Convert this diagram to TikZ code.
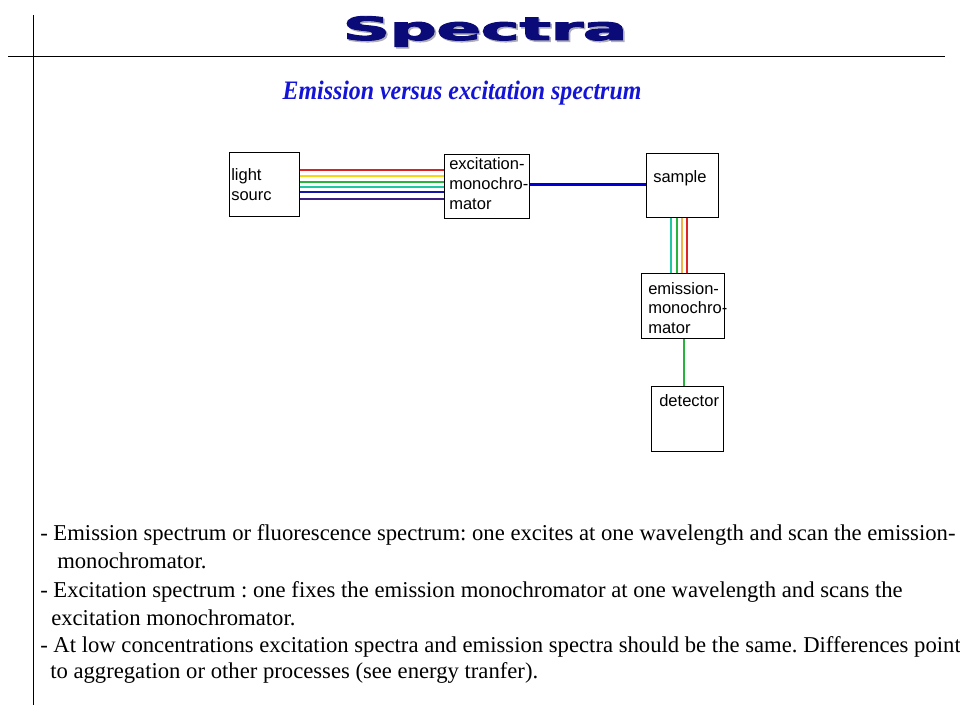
\documentclass[tikz,border=0pt]{standalone}
\usepackage{fontspec}
\setmainfont{Liberation Serif}
\setsansfont{Liberation Sans}
\newfontfamily\titlefont[FakeBold=3]{DejaVu Sans Bold}
\definecolor{navy}{RGB}{10,10,120}
\definecolor{shade}{RGB}{175,175,185}
\definecolor{subblue}{RGB}{20,20,215}
\definecolor{cred}{RGB}{220,35,35}
\definecolor{cyellow}{RGB}{245,215,20}
\definecolor{cgreen}{RGB}{40,180,60}
\definecolor{cteal}{RGB}{30,200,160}
\definecolor{cblue}{RGB}{20,20,170}
\definecolor{cindigo}{RGB}{60,30,130}
\definecolor{corange}{RGB}{240,180,70}
\definecolor{mainblue}{RGB}{0,0,210}
\newcommand{\spectratitle}{\scalebox{2.04}[1]{\titlefont\fontsize{24}{26}\selectfont Spectra}}
\tikzset{
  box/.style={draw=black, line width=0.75pt, rectangle, inner sep=0pt},
  boxtext/.style={font=\sffamily\fontsize{12.4}{15}\selectfont, anchor=base west, inner sep=0pt},
  bodytext/.style={font=\frenchspacing\fontsize{17}{20}\selectfont, anchor=base west, inner sep=0pt},
  ray/.style={line width=1.6pt},
  frameline/.style={line width=0.75pt, draw=black}
}
\begin{document}
\begin{tikzpicture}[x=0.75pt,y=-0.75pt]
\useasboundingbox (0,0) rectangle (960,720);
% frame
\coordinate (hl) at (8,57);
\coordinate (hr) at (945,57);
\coordinate (vt) at (33,15);
\coordinate (vb) at (33,705);
\draw[frameline] (hl) -- (hr);
\draw[frameline] (vt) -- (vb);
% title (with its soft shadow)
\node[anchor=base, inner sep=0pt] (title) at (485,40)
  {\makebox[0pt][l]{\raisebox{-1.2pt}{\hspace{1.2pt}\textcolor{shade}{\spectratitle}}}\textcolor{navy}{\spectratitle}};
% subtitle
\node[anchor=base, inner sep=0pt, text=subblue] (sub) at (462,100) {\scalebox{0.895}[1]{\bfseries\itshape\fontsize{20}{24}\selectfont Emission versus excitation spectrum}};
% boxes
\node[box, minimum width=52.5pt, minimum height=48pt] (ls) at (264,185) {};
\node[box, minimum width=63.75pt, minimum height=48pt] (ex) at (486.5,187) {};
\node[box, minimum width=54pt, minimum height=48pt] (sa) at (682,186) {};
\node[box, minimum width=62.25pt, minimum height=48pt] (em) at (682.5,306) {};
\node[box, minimum width=54pt, minimum height=48.75pt] (de) at (687,418.5) {};
% box texts
\node[boxtext] (lst1) at (231,181) {light};
\node[boxtext] (lst2) at (231,201) {sourc};
\node[boxtext] (ext1) at (449,170) {excitation-};
\node[boxtext] (ext2) at (449,190) {monochro-};
\node[boxtext] (ext3) at (449,210) {mator};
\node[boxtext] (sat) at (653,183) {sample};
\node[boxtext] (emt1) at (648,295) {emission-};
\node[boxtext] (emt2) at (648,314) {monochro-};
\node[boxtext] (emt3) at (648,333) {mator};
\node[boxtext] (det) at (659,406) {detector};
% rays light -> excitation
\draw[ray, cred]    (ls.east |- 0,170) -- (ex.west |- 0,170);
\draw[ray, cyellow] (ls.east |- 0,176) -- (ex.west |- 0,176);
\draw[ray, cgreen]  (ls.east |- 0,182) -- (ex.west |- 0,182);
\draw[ray, cteal]   (ls.east |- 0,187) -- (ex.west |- 0,187);
\draw[ray, cblue]   (ls.east |- 0,192) -- (ex.west |- 0,192);
\draw[ray, cindigo] (ls.east |- 0,199) -- (ex.west |- 0,199);
% excitation -> sample
\draw[line width=2.25pt, mainblue] (ex.east |- 0,185) -- (sa.west |- 0,185);
% sample -> emission
\draw[ray, cteal]   (sa.south -| 671,0) -- (em.north -| 671,0);
\draw[ray, cgreen]  (sa.south -| 677,0) -- (em.north -| 677,0);
\draw[ray, corange] (sa.south -| 682,0) -- (em.north -| 682,0);
\draw[ray, cred]    (sa.south -| 687,0) -- (em.north -| 687,0);
% emission -> detector
\draw[ray, cgreen] (em.south -| 684,0) -- (de.north -| 684,0);
% body text
\node[bodytext] (t1) at (40,540) {- Emission spectrum or fluorescence spectrum: one excites at one wavelength and scan the emission-};
\node[bodytext] (t2) at (57,568) {monochromator.};
\node[bodytext] (t3) at (40,597) {- Excitation spectrum : one fixes the emission monochromator at one wavelength and scans the};
\node[bodytext] (t4) at (51,625) {excitation monochromator.};
\node[bodytext] (t5) at (40,652) {- At low concentrations excitation spectra and emission spectra should be the same. Differences point};
\node[bodytext] (t6) at (50,678) {to aggregation or other processes (see energy tranfer).};
\end{tikzpicture}
\end{document}
